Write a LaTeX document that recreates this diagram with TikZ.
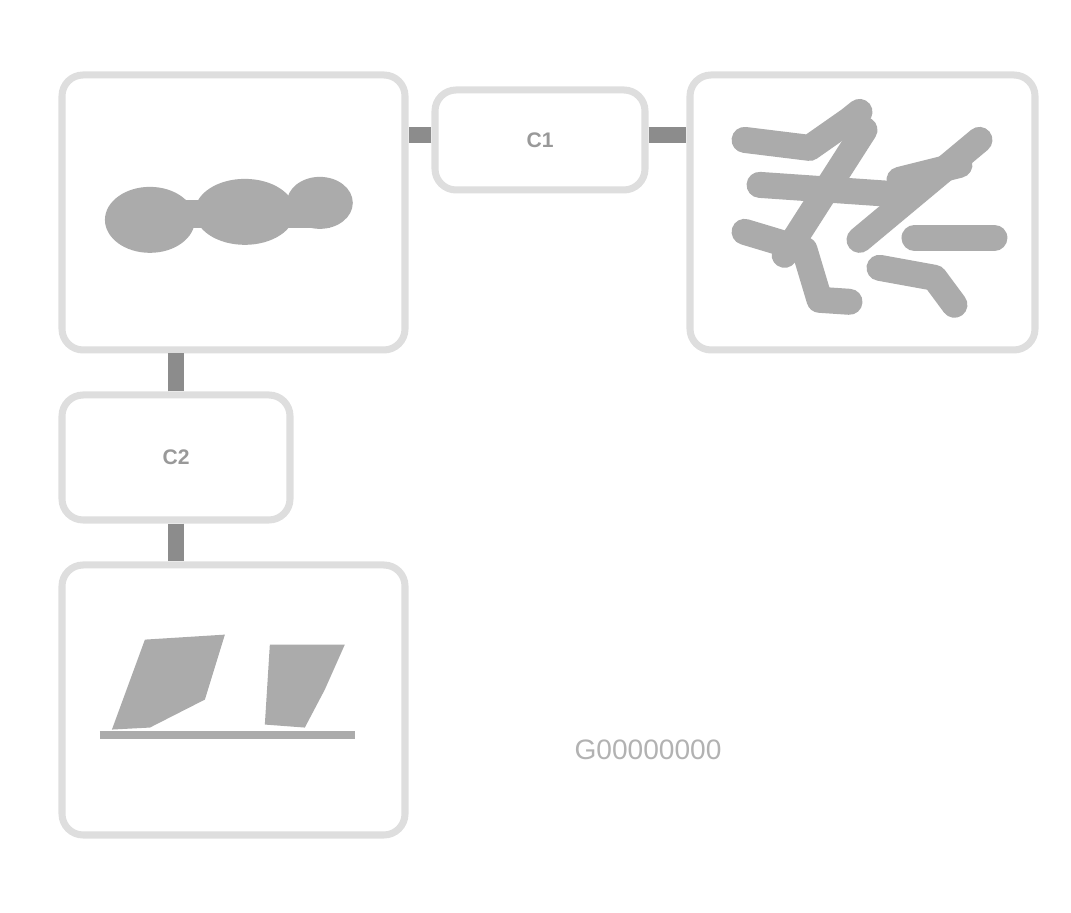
\documentclass[tikz,border=0pt]{standalone}
\usepackage{fontspec}
\setsansfont{Liberation Sans}
\begin{document}
\begin{tikzpicture}[
    panel/.style={rectangle, draw=black!13, line width=2pt, rounded corners=6pt, fill=white},
    tag/.style={text=black!40, font=\sffamily\bfseries\fontsize{6}{7}\selectfont},
    link/.style={draw=black!45, line width=4.5pt},
    ink/.style={black!33}
    ]
    \useasboundingbox (0,0) rectangle (10.71,9.13);

        \node[panel,
        minimum width = 3.43cm,
        minimum height = 2.75cm] (sensor) at (2.335,7.005) {};
        \node[panel,
        minimum width = 2.10cm,
        minimum height = 1.00cm] (plugA) at (5.40,7.73) {};
        \node[panel,
        minimum width = 3.45cm,
        minimum height = 2.75cm] (harness) at (8.625,7.005) {};
        \node[panel,
        minimum width = 2.28cm,
        minimum height = 1.25cm] (plugB) at (1.76,4.555) {};
        \node[panel,
        minimum width = 3.43cm,
        minimum height = 2.70cm] (module) at (2.335,2.13) {};

        \node[tag] (tagA) at (plugA.center) {C1};
        \node[tag] (tagB) at (plugB.center) {C2};
        \node[text=black!30, font=\sffamily\fontsize{8}{9}\selectfont] (figid) at (6.48,1.63) {G00000000};

        % connectors
        \draw [link] ([yshift=1.5pt]plugA.west) to ([yshift=1.5pt]plugA.west -| sensor.east);
        \draw [link] ([yshift=1.5pt]plugA.east) to ([yshift=1.5pt]plugA.east -| harness.west);
        \draw [link] (plugB.north) to (plugB.north |- sensor.south);
        \draw [link] (plugB.south) to (plugB.south |- module.north);

    % drawings inside the panels, in pixel units
    \begin{scope}[shift={(0,9.13)}, x=0.01cm, y=-0.01cm]
        % sensor
        \fill[ink] (150,220) ellipse (45 and 33);
        \fill[ink] (245,212) ellipse (50 and 33);
        \fill[ink] (320,203) ellipse (33 and 26);
        \fill[ink] (130,200) rectangle (330,228);
        % harness
        \begin{scope}[line width=0.26cm, line cap=round, line join=round, draw=black!33]
            \draw (745,140) -- (810,148) -- (850,120) -- (860,112);
            \draw (785,255) -- (865,130);
            \draw (860,240) -- (980,140);
            \draw (745,232) -- (805,250) -- (820,300) -- (850,302);
            \draw (880,268) -- (935,278) -- (955,305);
            \draw (915,238) -- (995,238);
            \draw (760,185) -- (905,195);
            \draw (900,180) -- (960,165);
        \end{scope}
        % module
        \fill[ink] (145,640) -- (225,635) -- (205,700) -- (150,728) -- (112,730) -- cycle;
        \fill[ink] (270,645) -- (345,645) -- (325,690) -- (305,728) -- (265,725) -- cycle;
        \draw[ink, line width=0.08cm] (100,735) -- (355,735);
    \end{scope}

    \end{tikzpicture}
\end{document}
